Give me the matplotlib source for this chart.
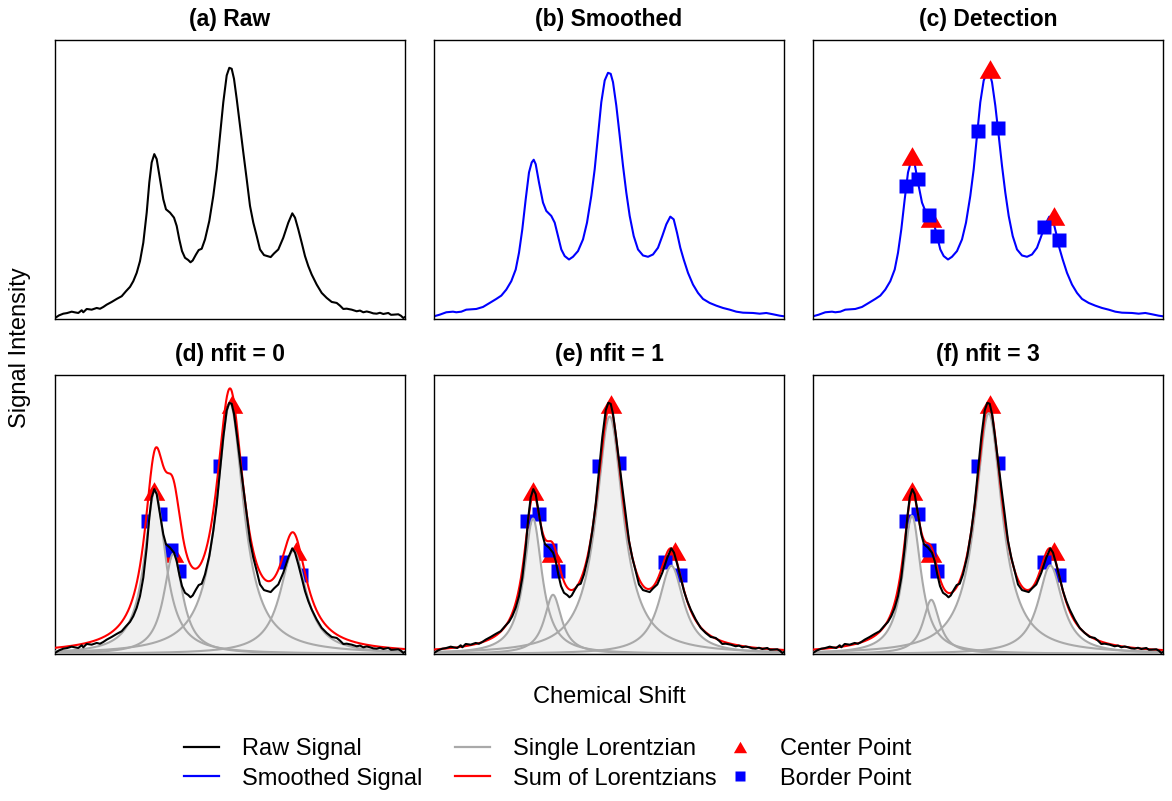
import numpy as np
import matplotlib
matplotlib.use("Agg")
import matplotlib.pyplot as plt
from matplotlib.lines import Line2D

plt.rcParams["font.family"] = ["Liberation Sans", "DejaVu Sans"]

# spectrum: shift position vs intensity
raw_x = [0, 4.0, 8.3, 12.0, 16.7, 20.0, 23.3, 26.7, 28.3, 31.7, 36.7, 41.7, 45.0, 48.3,
         51.7, 56.7, 61.7, 66.7, 71.0, 75.0, 78.3, 81.7, 85.0, 88.3, 91.7, 94.3, 96.7,
         99.3, 101.7, 105.0, 108.3, 111.0, 115.0, 119.0, 121.7, 124.3, 127.0, 130.0,
         133.3, 135.5, 137.7, 141.0, 143.7, 146.7, 150.0, 154.3, 158.3, 161.7, 165.0,
         168.3, 171.7, 174.3, 176.7, 179.0, 181.7, 185.0, 188.3, 191.7, 195.0, 198.3,
         201.7, 205.0, 209.0, 212.3, 215.7, 219.0, 223.3, 228.3, 233.3, 237.3, 240.0,
         243.3, 246.7, 250.0, 253.3, 256.7, 261.7, 266.7, 271.7, 276.7, 281.7, 285.0,
         288.3, 291.7, 296.7, 301.7, 305.0, 308.3, 311.7, 315.0, 318.3, 321.7, 325.0,
         328.3, 333.3, 336.0, 338.3, 343.3, 346.0, 348.3, 350.0]
raw_y = [1.0, 3.6, 5.3, 5.9, 7.3, 6.6, 6.0, 8.7, 6.7, 10.0, 9.3, 11.0, 10.2, 12.0,
         14.3, 17.0, 20.0, 22.7, 27.7, 32.0, 37.7, 46.0, 57.7, 76.0, 106.0, 136.0, 156.0,
         164.3, 159.3, 139.3, 119.3, 109.3, 106.0, 101.0, 92.7, 79.3, 67.7, 61.0,
         58.7, 56.5, 58.3, 64.3, 68.7, 70.0, 79.3, 97.7, 122.7, 149.3, 182.7,
         216.0, 242.7, 250.3, 249.3, 239.3, 219.3, 192.7, 166.0, 139.3, 112.7, 96.0,
         82.7, 69.3, 63.7, 62.7, 61.7, 65.3, 69.3, 81.0, 96.0, 105.3, 101.0,
         89.3, 76.0, 62.7, 52.7, 44.3, 34.3, 26.0, 21.0, 17.0, 16.0, 13.3,
         10.0, 10.3, 9.3, 7.7, 8.4, 6.7, 7.5, 6.7, 5.6, 5.3, 6.2,
         5.0, 6.0, 4.2, 4.3, 4.7, 3.2, 1.0, 2.0]

# smoothed spectrum
smooth_x = [0, 5.7, 12.3, 19.0, 22.3, 27.3, 32.3, 42.3, 49.0, 55.7, 62.3, 67.3, 72.3,
            77.3, 81.7, 85.0, 88.3, 91.7, 95.0, 97.7, 99.7, 101.7, 105.0, 109.0, 112.3,
            117.3, 120.7, 124.0, 127.3, 130.7, 135.0, 139.0, 144.0, 149.0, 153.0, 157.3,
            160.7, 164.0, 167.3, 170.7, 174.0, 176.7, 179.0, 182.3, 185.7, 189.0, 192.3,
            195.7, 199.7, 204.0, 209.0, 214.0, 219.0, 224.0, 228.3, 232.3, 236.3, 239.7,
            243.0, 246.3, 249.7, 254.0, 259.0, 264.0, 269.0, 275.7, 282.3, 289.0, 295.7,
            302.3, 309.0, 319.0, 325.7, 332.3, 339.0, 345.7, 350.0]
smooth_y = [2.7, 4.3, 6.7, 7.3, 6.7, 7.3, 9.3, 10.0, 12.0, 16.0, 20.0, 23.3, 29.3,
            37.7, 49.3, 66.0, 89.3, 119.3, 146.0, 156.0, 158.7, 154.3, 136.0, 116.0, 107.7,
            102.7, 96.0, 82.7, 69.3, 62.7, 59.3, 62.0, 67.7, 79.3, 96.0, 122.7,
            149.3, 182.7, 216.0, 237.7, 245.3, 244.3, 236.0, 212.7, 182.7, 152.7, 126.0,
            102.7, 82.7, 69.3, 63.3, 62.0, 64.3, 71.0, 82.7, 94.3, 102.0, 99.3,
            86.0, 71.0, 59.3, 46.0, 34.3, 26.0, 20.0, 16.0, 13.3, 11.0, 9.3,
            7.3, 6.3, 6.0, 5.3, 6.0, 4.7, 3.3, 2.7]

# detected peaks
center_x = [99.3, 118.3, 176.7, 240.7]
center_y = [162.0, 101.0, 248.7, 102.7]
border_x = [93.0, 104.7, 116.0, 124.0, 165.0, 185.0, 231.3, 246.0]
border_y = [132.7, 139.3, 103.7, 82.3, 187.3, 190.0, 92.0, 79.0]

# Lorentzian parameters per fit stage: position, height, half width
lz_pos = {
    "nfit0": [100.0, 118.3, 175.0, 238.3],
    "nfit1": [99.0, 119.0, 175.7, 237.3],
    "nfit3": [99.0, 118.3, 175.7, 237.3],
}
lz_height = {
    "nfit0": [163.0, 100.0, 250.0, 103.0],
    "nfit1": [135.0, 59.0, 236.7, 88.0],
    "nfit3": [137.7, 54.0, 240.0, 88.3],
}
lz_hwhm = {
    "nfit0": [12.7, 11.5, 16.5, 16.0],
    "nfit1": [11.0, 10.5, 16.5, 15.0],
    "nfit3": [11.0, 10.0, 16.3, 14.7],
}

titles = ["(a) Raw", "(b) Smoothed", "(c) Detection",
          "(d) nfit = 0", "(e) nfit = 1", "(f) nfit = 3"]
fit_keys = ["nfit0", "nfit1", "nfit3"]

legend_cols = [
    [("line", "black", "Raw Signal"), ("line", "blue", "Smoothed Signal")],
    [("line", "#a9a9a9", "Single Lorentzian"), ("line", "red", "Sum of Lorentzians")],
    [("tri", "red", "Center Point"), ("sq", "blue", "Border Point")],
]

XLIM = (0, 350)
YLIM = (0, 278)
TRI = [(-1, -0.866), (1, -0.866), (0, 0.866)]
GRAY = "#a9a9a9"
FILL = "#f0f0f0"


def lorentz(x, x0, a, w):
    return a / (1 + ((x - x0) / w) ** 2)


def setup(ax, title):
    ax.set_xlim(*XLIM)
    ax.set_ylim(*YLIM)
    ax.set_xticks([])
    ax.set_yticks([])
    for s in ax.spines.values():
        s.set_linewidth(1.0)
    ax.text(0.5, 1 + 20 / 278, title, transform=ax.transAxes, ha="center",
            va="center", fontsize=16.5, fontweight="bold")


def add_points(ax, z=3):
    ax.plot(center_x, center_y, linestyle="none", marker=TRI, ms=15.5,
            mfc="red", mec="none", zorder=z)
    ax.plot(border_x, border_y, linestyle="none", marker="s", ms=10,
            mfc="blue", mec="none", zorder=z + 0.1)


fig = plt.figure(figsize=(11.72, 8.01), dpi=100)
W, H = 1172, 801
lefts = [55, 434, 813]
tops = [40, 375]
axes = []
for r in range(2):
    for c in range(3):
        ax = fig.add_axes([lefts[c] / W, 1 - (tops[r] + 279) / H, 350 / W, 279 / H])
        axes.append(ax)

ax = axes[0]
setup(ax, titles[0])
ax.plot(raw_x, raw_y, color="black", lw=1.5)

ax = axes[1]
setup(ax, titles[1])
ax.plot(smooth_x, smooth_y, color="blue", lw=1.5)

ax = axes[2]
setup(ax, titles[2])
ax.plot(smooth_x, smooth_y, color="blue", lw=1.5, zorder=2)
add_points(ax)

xx = np.linspace(XLIM[0], XLIM[1], 701)
for ax, title, key in zip(axes[3:], titles[3:], fit_keys):
    setup(ax, title)
    add_points(ax, z=1)
    total = np.zeros_like(xx)
    for x0, a, w in zip(lz_pos[key], lz_height[key], lz_hwhm[key]):
        yy = lorentz(xx, x0, a, w)
        total += yy
        ax.fill_between(xx, 0, yy, color=FILL, lw=0, zorder=2)
    for x0, a, w in zip(lz_pos[key], lz_height[key], lz_hwhm[key]):
        ax.plot(xx, lorentz(xx, x0, a, w), color=GRAY, lw=1.5, zorder=3)
    ax.plot(xx, total, color="red", lw=1.5, zorder=4)
    ax.plot(raw_x, raw_y, color="black", lw=1.5, zorder=5)

fig.text(20 / W, 1 - 347.5 / H, "Signal Intensity", rotation=90, ha="center",
         va="center", fontsize=17)
fig.text(609 / W, 1 - 697 / H, "Chemical Shift", ha="center", va="center",
         fontsize=17)

# legend: three equally spaced columns, like R's legend()
col_left = [184, 455, 722]
for x0, entries in zip(col_left, legend_cols):
    hs, ls = [], []
    for kind, col, lab in entries:
        if kind == "line":
            hs.append(Line2D([], [], color=col, lw=1.6))
        elif kind == "tri":
            hs.append(Line2D([], [], linestyle="none", marker=TRI, ms=9.5,
                             mfc=col, mec="none"))
        else:
            hs.append(Line2D([], [], linestyle="none", marker="s", ms=7,
                             mfc=col, mec="none"))
        ls.append(lab)
    fig.legend(hs, ls, loc="center left", frameon=False, fontsize=17,
               bbox_to_anchor=(x0 / W, 1 - 764 / H), borderpad=0,
               borderaxespad=0, handlelength=1.5, handletextpad=0.95,
               labelspacing=0.3)

fig.savefig("out.png", dpi=100)
